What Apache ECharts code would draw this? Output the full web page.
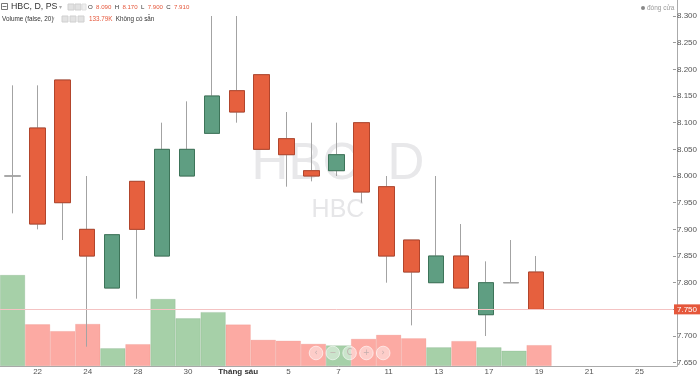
<!DOCTYPE html>
<html>
<head>
<meta charset="utf-8">
<script src="https://cdn.jsdelivr.net/npm/echarts@6/dist/echarts.min.js"></script>
<style>
html,body{margin:0;padding:0;background:#fff;}
#chart{width:700px;height:378px;}
</style>
</head>
<body>
<div id="chart"></div>
<script>
// ---- data ----
const dates = ['2019-05-21','2019-05-22','2019-05-23','2019-05-24','2019-05-27','2019-05-28','2019-05-29','2019-05-30','2019-05-31',
  '2019-06-03','2019-06-04','2019-06-05','2019-06-06','2019-06-07','2019-06-10','2019-06-11','2019-06-12','2019-06-13','2019-06-14',
  '2019-06-17','2019-06-18','2019-06-19'];
const futureDates = ['2019-06-20','2019-06-21','2019-06-24','2019-06-25','2019-06-26'];
const openP  = [8.00,8.09,8.18,7.90,7.79,7.99,7.85,8.00,8.08,8.16,8.19,8.07,8.01,8.01,8.10,7.98,7.88,7.80,7.85,7.74,7.80,7.82];
const closeP = [8.00,7.91,7.95,7.85,7.89,7.90,8.05,8.05,8.15,8.12,8.05,8.04,8.00,8.04,7.97,7.85,7.82,7.85,7.79,7.80,7.80,7.75];
const highP  = [8.17,8.17,8.18,8.00,7.89,7.99,8.10,8.14,8.30,8.30,8.19,8.12,8.10,8.10,8.10,8.00,7.88,8.00,7.91,7.84,7.88,7.85];
const lowP   = [7.93,7.90,7.88,7.68,7.79,7.77,7.85,8.00,8.08,8.10,8.05,7.98,7.99,8.00,7.95,7.80,7.72,7.80,7.79,7.70,7.80,7.75];
const volumeK = [292,133.79,112,135,57,70,215,153,173,133,84,81,71,66,87,100,89,60,80,60,49,67];
const monthNames = {'06':'Tháng sáu'};
const priceMin = 7.65, priceMax = 8.30, priceStep = 0.05;
const volMax = 385;

// ---- colors ----
const upFill = '#5f9e82', upBorder = '#3d7459';
const downFill = '#e6603e', downBorder = '#b2452c';
const wickColor = '#a3a3a3';
const volUp = '#a6d0a8', volDown = '#fcaaa3';
const FONT = 'Liberation Sans, Arial, sans-serif';

const categories = dates.concat(futureDates);
const fullData = dates.map((d,i)=>[openP[i], closeP[i], lowP[i], highP[i]]);
const bodyData = dates.map((d,i)=>{
  const hi = Math.max(openP[i], closeP[i]), lo = Math.min(openP[i], closeP[i]);
  return [openP[i], closeP[i], lo, hi];
});
const volData = dates.map((d,i)=>({
  value: volumeK[i],
  itemStyle: {color: closeP[i] >= openP[i] ? volUp : volDown,
              borderColor: closeP[i] >= openP[i] ? 'rgba(110,160,115,0.35)' : 'rgba(230,130,120,0.35)',
              borderWidth: 0.6}
}));
const lastClose = closeP[closeP.length-1];

const gridLeft = -2.575, gridRight = 23;

const navGlyphs = ['‹','−','C','+','›'];
const navElems = [];
navGlyphs.forEach((g,i)=>{
  const cx = 316 + i*16.8, cy = 353;
  navElems.push({type:'circle', z:20, shape:{cx:cx, cy:cy, r:6.8},
    style:{fill:'rgba(255,255,255,0.42)', stroke:'rgba(255,255,255,0.6)', lineWidth:1}});
  navElems.push({type:'text', z:21, style:{text:g, x:cx, y:cy, fontSize:8, fill:'rgba(190,170,170,0.9)',
    align:'center', verticalAlign:'middle', fontFamily:'DejaVu Sans'}});
});

const chart = echarts.init(document.getElementById('chart'), null, {renderer:'canvas'});
chart.setOption({
  animation: false,
  backgroundColor: '#fff',
  grid: [
    {left: gridLeft, right: gridRight, top: 16, bottom: 15.3},
    {left: gridLeft, right: gridRight, top: 246, bottom: 12},
    {left: 0, right: gridRight, top: 0, bottom: 12}
  ],
  xAxis: [
    {type:'category', gridIndex:0, data: categories, boundaryGap:true, show:false},
    {type:'category', gridIndex:1, data: categories, boundaryGap:true,
      axisLine:{show:true, lineStyle:{color:'#aaa', width:1}},
      axisTick:{show:false},
      axisLabel:{
        interval: function(index){ return index % 2 === 1; },
        margin: 2, fontSize: 8, color:'#555', fontFamily: FONT,
        formatter: function(value, index){
          const p = value.split('-');
          if (index > 0) {
            const prev = categories[index-1].split('-');
            if (prev[1] !== p[1] && monthNames[p[1]]) return '{b|' + monthNames[p[1]] + '}';
          }
          return String(parseInt(p[2],10));
        },
        rich:{b:{fontWeight:'bold', color:'#333', fontSize:8, fontFamily: FONT}}
      },
      splitLine:{show:false}},
    {type:'category', gridIndex:2, data: categories, show:false}
  ],
  yAxis: [
    {type:'value', gridIndex:0, position:'right', min: priceMin, max: priceMax, interval: priceStep,
      axisLine:{show:false},
      axisTick:{show:true, length:3, lineStyle:{color:'#999'}},
      axisLabel:{show:true, margin:4, fontSize:8, color:'#555', fontFamily: FONT,
        formatter: v => v.toFixed(3)},
      splitLine:{show:false}},
    {type:'value', gridIndex:1, min:0, max: volMax, show:false, splitLine:{show:false}},
    {type:'value', gridIndex:2, position:'right', min:0, max:1,
      axisLine:{show:true, lineStyle:{color:'#aaa', width:1}},
      axisTick:{show:false}, axisLabel:{show:false}, splitLine:{show:false}}
  ],
  series: [
    {type:'bar', xAxisIndex:1, yAxisIndex:1, data: volData, barCategoryGap:'0%', barWidth:'100%', z:1, silent:true},
    {type:'candlestick', xAxisIndex:0, yAxisIndex:0, data: fullData, barWidth:16, z:3, silent:true,
      itemStyle:{color:'transparent', color0:'transparent', borderColor: wickColor, borderColor0: wickColor,
        borderColorDoji: wickColor, borderWidth:1}},
    {type:'candlestick', xAxisIndex:0, yAxisIndex:0, data: bodyData, barWidth:16, z:4, silent:true,
      itemStyle:{color: upFill, color0: downFill, borderColor: upBorder, borderColor0: downBorder,
        borderColorDoji: wickColor, borderWidth:1},
      markLine:{silent:true, symbol:'none', animation:false,
        lineStyle:{color:'#f4c3c3', type:'solid', width:1},
        label:{show:true, position:'end', distance:1, formatter: () => lastClose.toFixed(3),
          backgroundColor:'#e5573b', color:'#fff', fontSize:8, padding:[1,3,1,3], fontFamily: FONT},
        data:[{yAxis: lastClose}]}
    }
  ],
  graphic: [
    {type:'text', z:0, style:{text:'HBC, D', x:338, y:165, fontSize:51, fill:'#e8e8ea',
      fontFamily: FONT, align:'center', verticalAlign:'middle'}},
    {type:'text', z:0, style:{text:'HBC', x:338, y:210, fontSize:25, fill:'#e6e6e8',
      fontFamily: FONT, align:'center', verticalAlign:'middle'}},
    // header line 1
    {type:'rect', z:10, shape:{x:1.5, y:3.5, width:6, height:6}, style:{fill:'none', stroke:'#777', lineWidth:1}},
    {type:'line', z:10, shape:{x1:2.5, y1:6.5, x2:6.5, y2:6.5}, style:{stroke:'#777', lineWidth:1}},
    {type:'text', z:10, style:{text:'HBC, D, PS', x:11, y:7, fontSize:8.8, fill:'#333', verticalAlign:'middle', fontFamily: FONT}},
    {type:'text', z:10, style:{text:'▾', x:59, y:7, fontSize:6, fill:'#aaa', verticalAlign:'middle', fontFamily:'DejaVu Sans'}},
    {type:'rect', z:10, shape:{x:68, y:4, width:6, height:6}, style:{fill:'#e2e2e2', stroke:'#d0d0d0'}},
    {type:'rect', z:10, shape:{x:75, y:4, width:6, height:6}, style:{fill:'#e2e2e2', stroke:'#d0d0d0'}},
    {type:'rect', z:10, shape:{x:82, y:4, width:4, height:6}, style:{fill:'#eee', stroke:'#e0e0e0'}},
    {type:'text', z:10, style:{
      text:'{l|O} {v|' + openP[1].toFixed(3) + '} {l|H} {v|' + highP[1].toFixed(3) + '} {l|L} {v|' + lowP[1].toFixed(3) + '} {l|C} {v|' + closeP[1].toFixed(3) + '}',
      x:88, y:7.5, verticalAlign:'middle',
      rich:{l:{fontSize:6.1, fill:'#333', fontFamily: FONT},
            v:{fontSize:6.1, fill:'#e5573b', fontFamily: FONT}}}},
    // header line 2
    {type:'text', z:10, style:{text:'Volume (false, 20)', x:2, y:19, fontSize:6.4, fill:'#333', verticalAlign:'middle', fontFamily: FONT}},
    {type:'text', z:10, style:{text:'▾', x:52, y:19, fontSize:5, fill:'#aaa', verticalAlign:'middle', fontFamily:'DejaVu Sans'}},
    {type:'rect', z:10, shape:{x:62, y:16, width:6, height:6}, style:{fill:'#e2e2e2', stroke:'#d0d0d0'}},
    {type:'rect', z:10, shape:{x:70, y:16, width:6, height:6}, style:{fill:'#e2e2e2', stroke:'#d0d0d0'}},
    {type:'rect', z:10, shape:{x:78, y:16, width:6, height:6}, style:{fill:'#e2e2e2', stroke:'#d0d0d0'}},
    {type:'text', z:10, style:{
      text:'{v|' + volumeK[1].toFixed(2) + 'K} {l|Không có sẵn}', x:89, y:19, verticalAlign:'middle',
      rich:{l:{fontSize:6.3, fill:'#333', fontFamily: FONT},
            v:{fontSize:6.3, fill:'#e5573b', fontFamily: FONT}}}},
    // top right legend
    {type:'circle', z:10, shape:{cx:643, cy:8, r:2}, style:{fill:'#888'}},
    {type:'text', z:10, style:{text:'đóng cửa', x:647, y:8, fontSize:6.5, fill:'#999', verticalAlign:'middle', fontFamily: FONT}}
  ].concat(navElems)
});
</script>
</body>
</html>
